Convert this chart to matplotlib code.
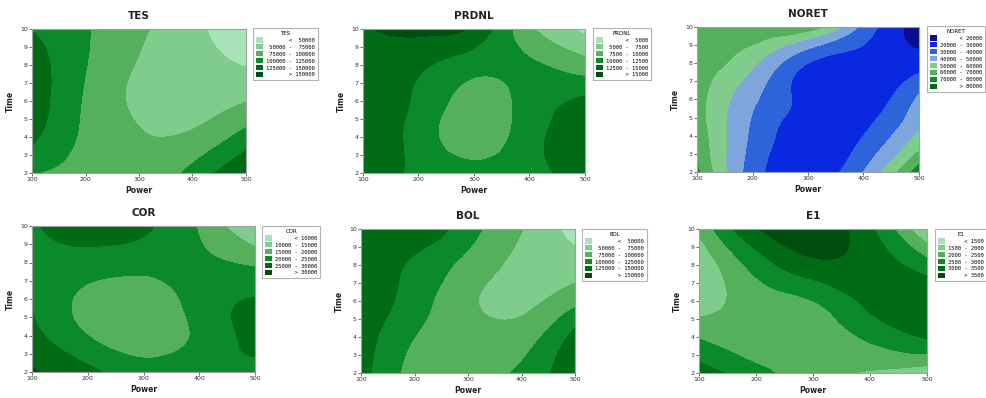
import numpy as np
import matplotlib
matplotlib.use("Agg")
import matplotlib.pyplot as plt
import matplotlib.tri as mtri
from matplotlib.patches import Patch

power = [100, 200, 300, 400, 500]
time = [2, 4, 6, 8, 10]

# rows: time 2 -> 10, columns: power 100 -> 500
tes = [[101000, 88000, 80000, 108000, 150000],
       [130000, 95000, 77000, 80000, 110000],
       [140000, 97000, 70000, 62000, 74000],
       [138000, 101000, 73000, 58000, 49000],
       [124000, 102000, 80000, 55000, 40000]]
prdnl = [[13500, 12000, 11000, 11700, 13500],
         [14000, 11500, 8600, 11500, 13800],
         [14000, 12000, 9000, 11000, 13000],
         [14000, 13000, 11000, 10300, 8500],
         [14800, 15600, 14500, 8000, 4500]]
noret = [[72000, 35000, 24000, 40000, 76000],
         [66000, 38000, 24000, 30000, 52000],
         [64000, 42000, 26000, 24000, 42000],
         [66000, 52000, 30000, 25000, 25000],
         [68000, 68000, 66000, 37000, 15000]]
cor = [[30500, 26500, 22000, 23000, 22500],
       [26500, 20000, 17000, 21000, 27000],
       [24500, 18500, 17000, 22000, 25200],
       [23500, 23000, 22000, 21000, 19000],
       [24500, 27000, 25800, 19500, 9000]]
bol = [[136000, 92000, 88000, 105000, 145000],
       [140000, 100000, 85000, 88000, 133000],
       [145000, 112000, 80000, 68000, 92000],
       [145000, 120000, 92000, 68000, 62000],
       [145000, 145000, 110000, 76000, 40000]]
e1 = [[3200, 2700, 2150, 1950, 1650],
      [2450, 2100, 2150, 2600, 3050],
      [1700, 2200, 2500, 3150, 3400],
      [1600, 2700, 3350, 3300, 2700],
      [2100, 3450, 3800, 3100, 1450]]

lev_tes = [50000, 75000, 100000, 125000, 150000]
lev_prdnl = [5000, 7500, 10000, 12500, 15000]
lev_noret = [20000, 30000, 40000, 50000, 60000, 70000, 80000]
lev_cor = [10000, 15000, 20000, 25000, 30000]
lev_bol = [50000, 75000, 100000, 125000, 150000]
lev_e1 = [1500, 2000, 2500, 3000, 3500]

greens = ['#a8e2b8', '#80cc8c', '#55b05c', '#0b8a2b', '#006b17', '#004d10']
blues = ['#0a0f8f', '#0a28e0', '#2d64dc', '#7ea6dc', '#80cc8c', '#55b05c', '#0b8a2b', '#006b17']

W, H = 987, 398
fig = plt.figure(figsize=(W / 100, H / 100), dpi=100)

# (name, data, levels, colours, axes px box l,r,t,b, legend px x,y)
panels = [
    ("TES", tes, lev_tes, greens, (32, 246, 29, 173), (253, 28)),
    ("PRDNL", prdnl, lev_prdnl, greens, (363, 585, 29, 173), (593, 28)),
    ("NORET", noret, lev_noret, blues, (697, 919, 27, 172), (927, 26)),
    ("COR", cor, lev_cor, greens, (32, 255, 226, 372), (262, 226)),
    ("BOL", bol, lev_bol, greens, (361, 575, 229, 373), (582, 229)),
    ("E1", e1, lev_e1, greens, (699, 927, 229, 373), (935, 229)),
]

P, T = np.meshgrid(power, time)
tri = mtri.Triangulation(P.ravel() / 100.0, T.ravel() / 2.0)
pf, tf = np.meshgrid(np.linspace(100, 500, 201), np.linspace(2, 10, 161))


def etiquetas(levels):
    w = len(str(max(levels)))
    labs = [f"{'<':>{w + 2}} {levels[0]:>{w}}"]
    for a, b in zip(levels[:-1], levels[1:]):
        labs.append(f"{a:>{w}} - {b:>{w}}")
    labs.append(f"{'>':>{w + 2}} {levels[-1]:>{w}}")
    return labs


for name, z, lv, cols, box, legpos in panels:
    l, r, t, b = box
    ax = fig.add_axes([l / W, 1 - b / H, (r - l) / W, (b - t) / H])
    interp = mtri.CubicTriInterpolator(tri, np.array(z, float).ravel(), kind='min_E')
    zf = interp(pf / 100.0, tf / 2.0)
    niveles = [-1e12] + lv + [1e12]
    ax.contourf(pf, tf, zf, levels=niveles, colors=cols)
    ax.set_xlim(100, 500)
    ax.set_ylim(2, 10)
    ax.set_xticks(power)
    ax.set_yticks(range(2, 11))
    ax.tick_params(labelsize=4.5, length=2, width=0.5, pad=1, colors='#333333')
    for s in ax.spines.values():
        s.set_color('#a0a0a0')
        s.set_linewidth(0.8)
    ax.set_title(name, fontsize=7.5, fontweight='bold', pad=7, color='#222222')
    ax.set_xlabel('Power', fontsize=5.5, fontweight='bold', labelpad=3, color='#222222')
    ax.set_ylabel('Time', fontsize=5.5, fontweight='bold', labelpad=4, color='#222222')

    handles = [Patch(facecolor=c, edgecolor='none') for c in cols]
    leg = fig.legend(handles, etiquetas(lv), title=name, loc='upper left',
                     bbox_to_anchor=(legpos[0] / W, 1 - legpos[1] / H),
                     prop={'family': 'DejaVu Sans Mono', 'size': 4.0},
                     title_fontsize=4.0, frameon=True, fancybox=False,
                     handlelength=1.3, handleheight=1.1, handletextpad=0.6,
                     labelspacing=0.25, borderpad=0.5, borderaxespad=0)
    leg.get_frame().set_edgecolor('#a0a0a0')
    leg.get_frame().set_linewidth(0.8)

fig.savefig("out.png", dpi=100)
